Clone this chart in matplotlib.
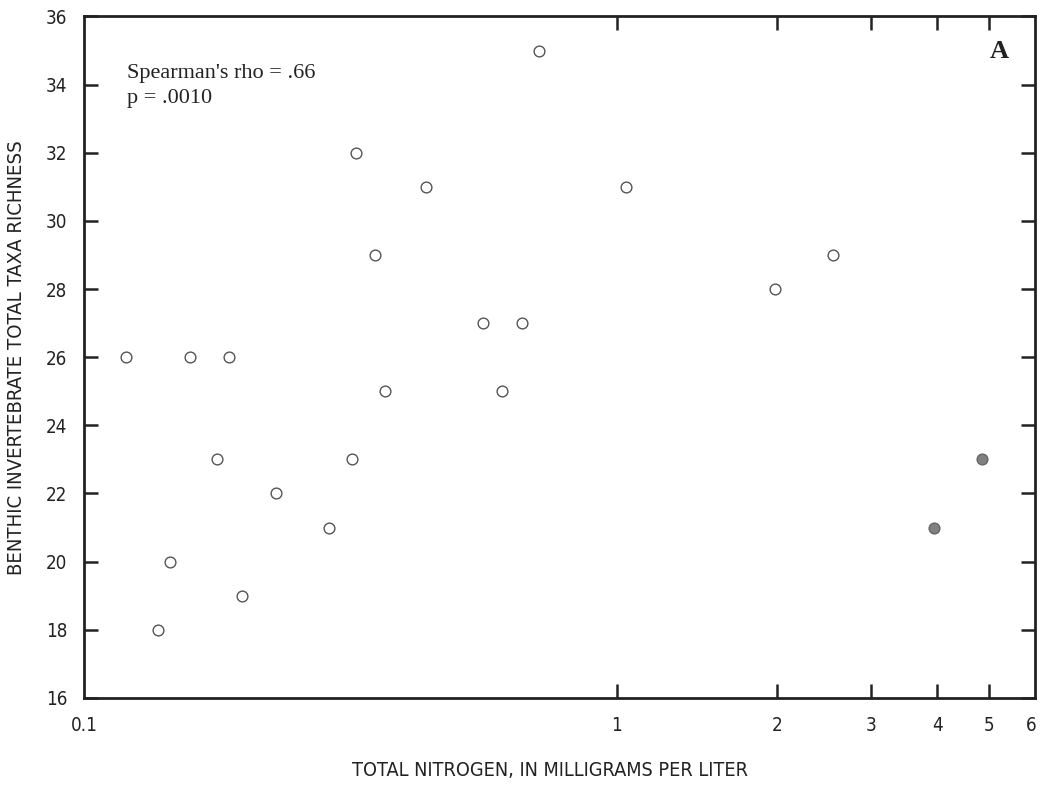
import numpy as np
import matplotlib
matplotlib.use("Agg")
from matplotlib import pyplot as plt
from matplotlib.ticker import FixedLocator, FixedFormatter, NullLocator

# Total nitrogen (mg/L) and taxa richness
tn_open = [0.12, 0.138, 0.145, 0.158, 0.178, 0.1875, 0.198, 0.229, 0.288,
           0.318, 0.324, 0.352, 0.367, 0.439, 0.562, 0.610, 0.665, 0.716,
           1.04, 1.98, 2.55]
rich_open = [26, 18, 20, 26, 23, 26, 19, 22, 21,
             23, 32, 29, 25, 31, 27, 25, 27, 35,
             31, 28, 29]
tn_filled = [3.94, 4.85]
rich_filled = [21, 23]

x_ticks = [0.1, 1, 2, 3, 4, 5, 6]
x_tick_labels = ["0.1", "1", "2", "3", "4", "5", "6"]
y_ticks = list(range(16, 37, 2))

sans = ["DejaVu Sans"]
serif = ["Liberation Serif", "DejaVu Serif"]
ink = "#222222"

fig = plt.figure(figsize=(10.42, 7.85), dpi=100)
ax = fig.add_axes([0.0806, 0.111, 0.9127, 0.868])

ax.scatter(tn_open, rich_open, s=60, facecolors="white", edgecolors="#555555",
           linewidths=1.0, zorder=3)
ax.scatter(tn_filled, rich_filled, s=60, facecolors="#808080", edgecolors="#666666",
           linewidths=1.0, zorder=3)

ax.set_xscale("log")
ax.set_xlim(0.1, 6.1)
ax.set_ylim(16, 36)

ax.xaxis.set_major_locator(FixedLocator(x_ticks))
ax.xaxis.set_major_formatter(FixedFormatter(x_tick_labels))
ax.xaxis.set_minor_locator(NullLocator())
ax.set_yticks(y_ticks)

for s in ax.spines.values():
    s.set_linewidth(2.0)
    s.set_color(ink)

ax.tick_params(axis="both", which="major", direction="in", length=10, width=1.8,
               top=True, right=True, color=ink, labelsize=13.5)
ax.tick_params(axis="x", pad=13)
ax.tick_params(axis="y", pad=12)
for lab in ax.get_xticklabels() + ax.get_yticklabels():
    lab.set_family(sans)
    lab.set_stretch("condensed")
    lab.set_color(ink)
# no tick marks at the axis ends (0.1 and 6)
for t in ax.xaxis.get_major_ticks():
    if t.get_loc() in (0.1, 6):
        t.tick1line.set_visible(False)
        t.tick2line.set_visible(False)

ax.set_xlabel("TOTAL NITROGEN, IN MILLIGRAMS PER LITER", family=sans,
              stretch="condensed", fontsize=14.2, color=ink)
ax.set_ylabel("BENTHIC INVERTEBRATE TOTAL TAXA RICHNESS", family=sans,
              stretch="condensed", fontsize=14.6, color=ink)
ax.xaxis.set_label_coords(0.49, -0.093)
ax.yaxis.set_label_coords(-0.061, 0.5)

ax.text(0.045, 0.93, "Spearman's rho = .66\np = .0010", transform=ax.transAxes,
        family=serif, fontsize=16, va="top", ha="left", color=ink,
        linespacing=1.45)
ax.text(0.972, 0.965, "A", transform=ax.transAxes, family=serif, fontsize=19,
        fontweight="bold", va="top", ha="right", color=ink)

fig.savefig("out.png", dpi=100)
